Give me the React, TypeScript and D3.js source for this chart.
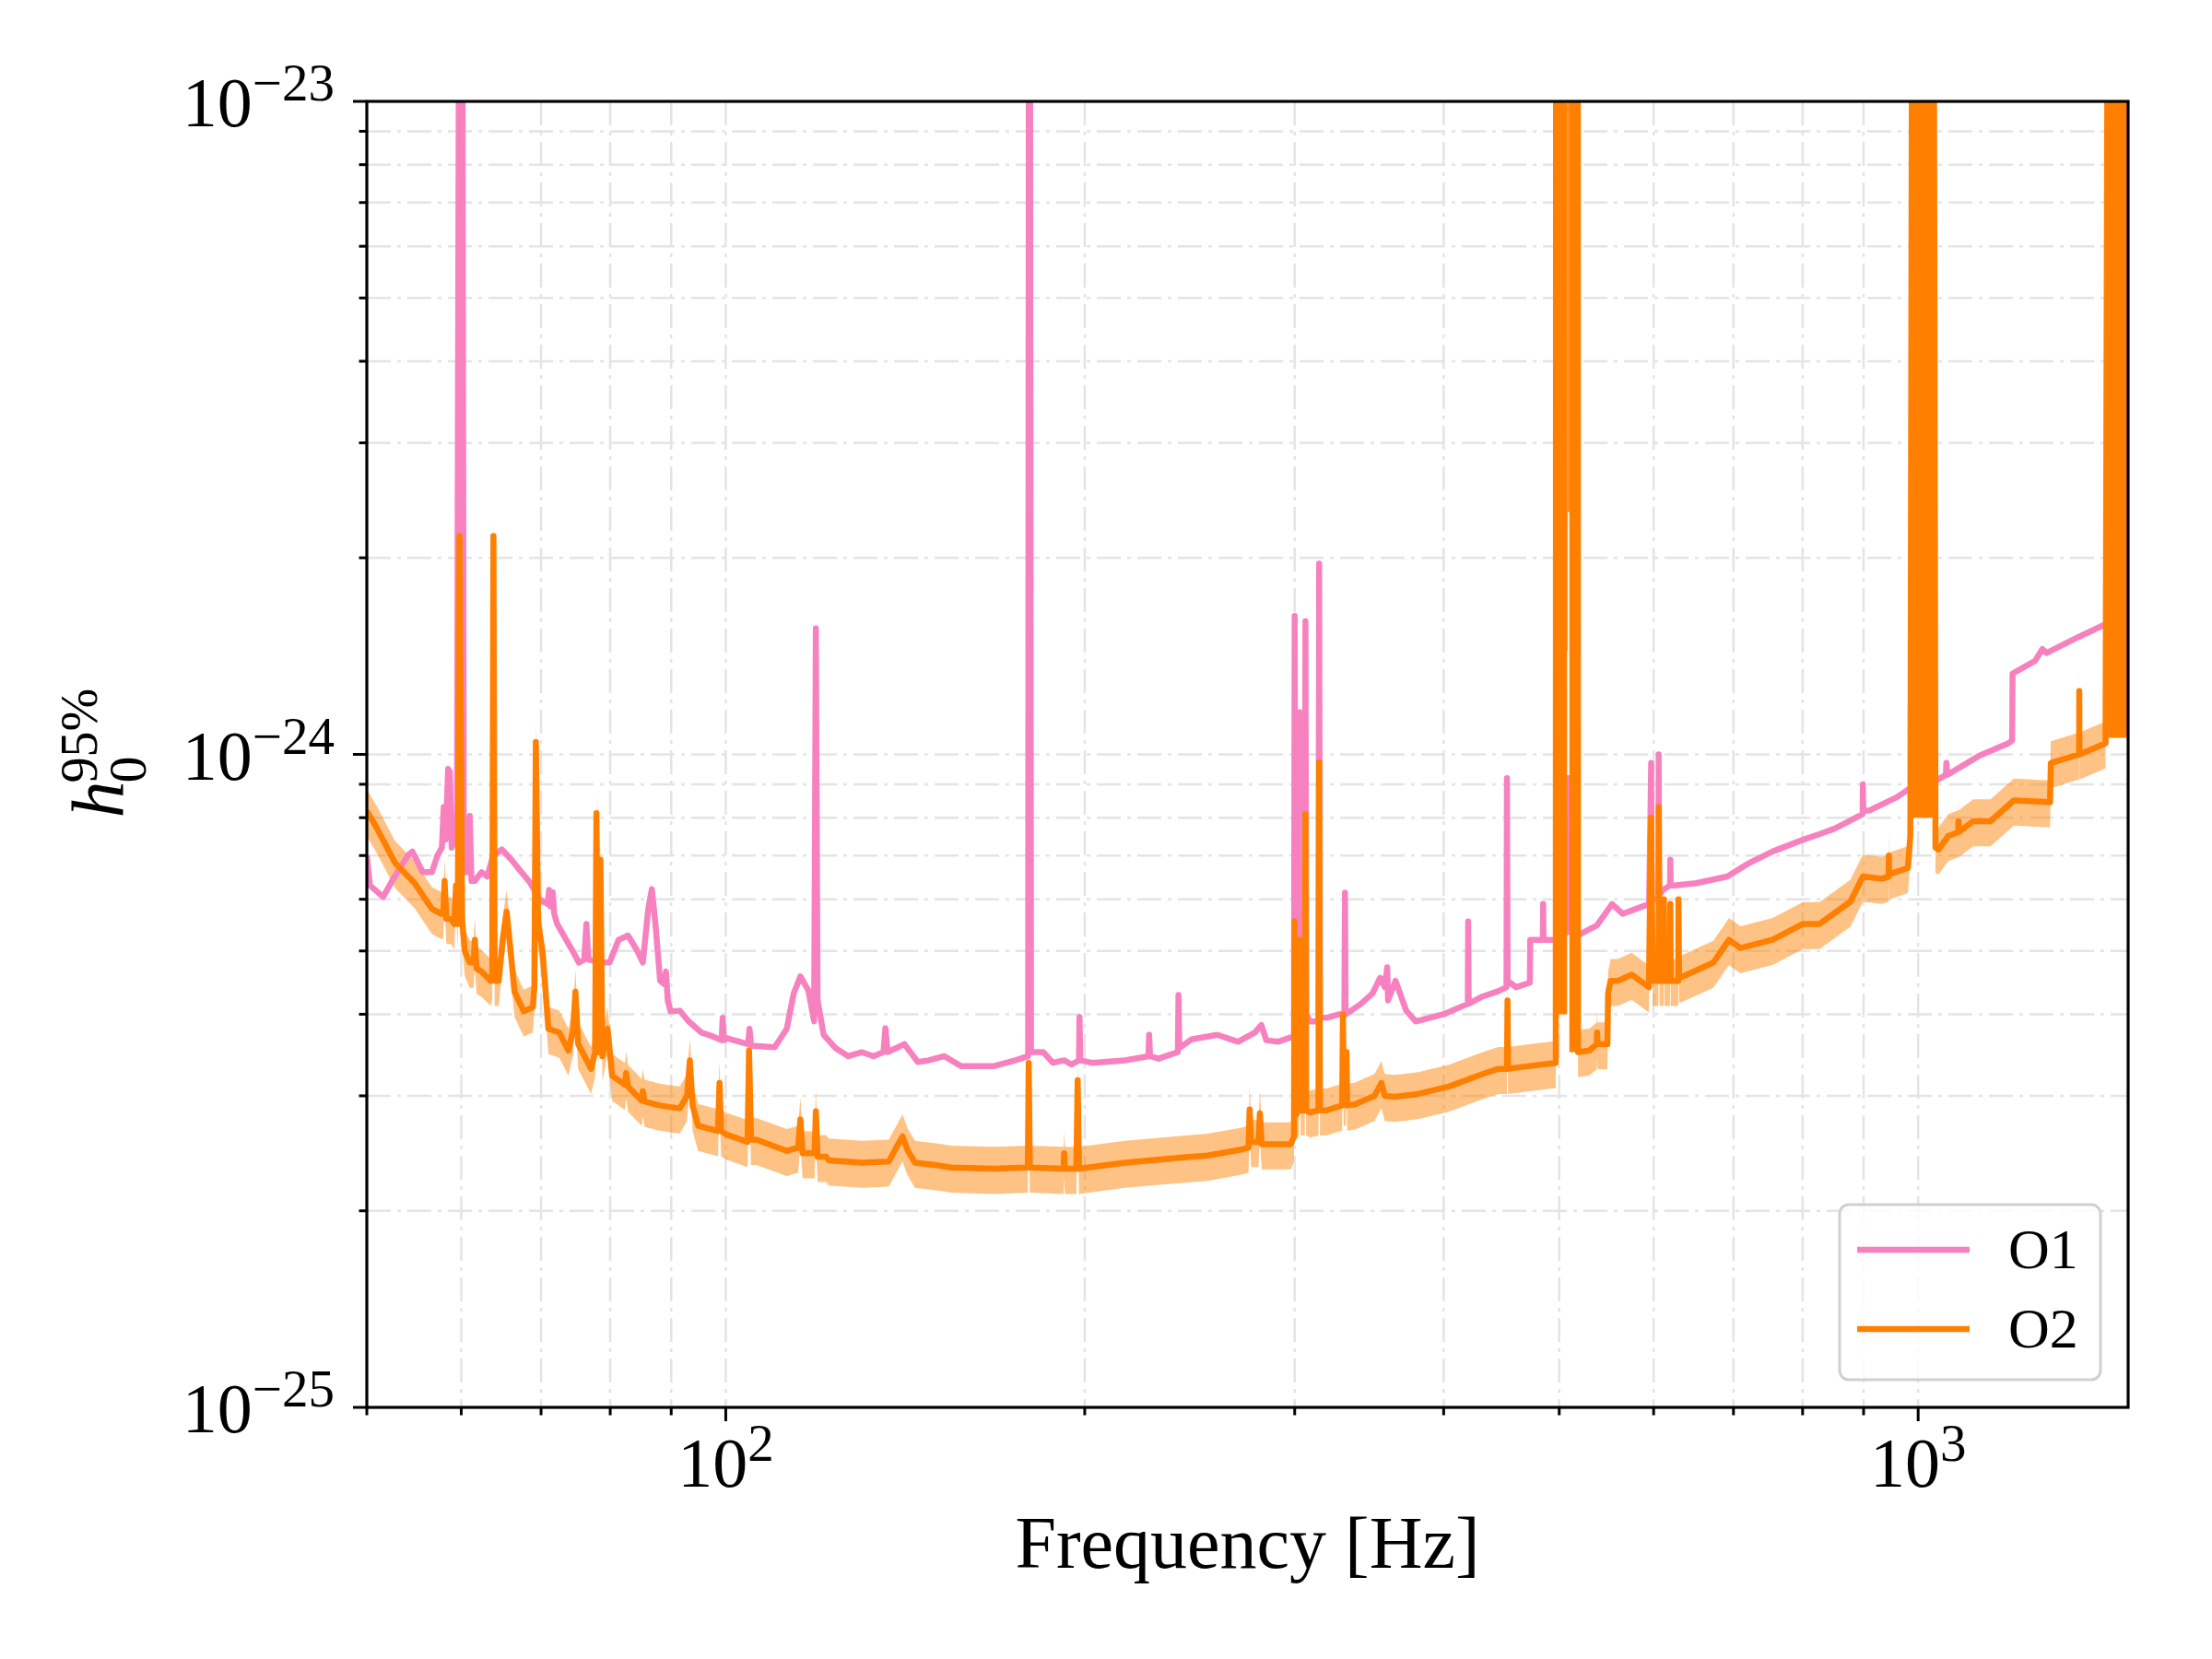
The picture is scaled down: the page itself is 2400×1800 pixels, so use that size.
import { useEffect, useRef } from "react"
import * as d3 from "d3"

// Upper limits, in units of 1e-25
const UNIT = 1e-25

// O1 upper limit: frequency [Hz] and h0 (x1e-25); spikes appear as consecutive points
const O1_FREQ = [
  50, 50.3, 51.6, 52.5, 54.1, 54.6, 55.7, 56.7, 57.3, 57.8, 58.0, 58.2, 58.5, 58.7, 58.9, 59.5, 59.8, 60.1, 60.3, 60.8,
  61.0, 61.2, 61.6, 62.4, 63.1, 63.8, 64.9, 66.1, 67.4, 68.5, 69.8, 70.9, 71.1, 71.3, 71.6, 71.8, 72.2, 74.4, 75.3, 76.1,
  76.4, 76.7, 78.5, 79.9, 81.3, 82.8, 84.3, 85.2, 86.1, 86.7, 87.3, 88.1, 88.8, 89.1, 89.4, 89.9, 91.5, 93.1, 95.4, 97.5,
  99.2, 99.4, 99.7, 100, 104.4, 104.7, 105, 109.9, 112.5, 114, 115.5, 117.3, 118.6, 119.0, 119.4, 120.8, 123.6, 126.7, 130, 133,
  135.6, 136.1, 136.7, 141.2, 144.9, 148, 152.5, 157.6, 167.7, 175, 179.3, 179.6, 179.9, 180.3, 184.6, 188.1, 192.2, 195, 197.8, 198.0,
  198.3, 202.8, 216.2, 226.2, 226.5, 226.9, 230.6, 239.4, 239.7, 240.1, 245.7, 258.4, 268.9, 277.7, 281.3, 284, 290.3, 299.6, 300.0, 300.5,
  302.5, 302.9, 303.4, 305.9, 306.3, 306.8, 309, 314.1, 314.5, 315, 319, 327, 330.2, 330.6, 331, 334.5, 341, 348.5, 353.9, 357,
  358.7, 359.3, 364.5, 372.1, 378.9, 400, 419.1, 419.4, 419.8, 430, 444.5, 451.6, 452, 452.6, 460, 472.4, 472.8, 482.9, 484.4, 484.7,
  485.1, 495.2, 508.6, 509.0, 509.4, 513.3, 520, 537.7, 553.8, 565, 577.2, 594.8, 597.2, 597.8, 605.6, 605.9, 606.4, 611.2, 619.3, 619.6,
  620.2, 624.3, 651.4, 691.6, 719.7, 754.9, 800.6, 826.7, 851.6, 898.3, 898.7, 899.4, 909.6, 959.9, 986.8, 1033, 1055, 1056, 1058, 1068,
  1124, 1190, 1199, 1200, 1253, 1271, 1282, 1360, 1444, 1500,
]
const O1_H = [
  7.0, 6.3, 6.05, 6.4, 7.0, 7.1, 6.6, 6.6, 7.0, 7.2, 8.3, 7.4, 9.5, 9.4, 7.2, 7.5, 300, 300, 6.6, 6.6,
  8.05, 6.4, 6.4, 6.6, 6.5, 7.0, 7.15, 6.9, 6.6, 6.37, 6.0, 5.9, 6.2, 5.85, 6.15, 5.7, 5.5, 5.0, 4.8, 4.85,
  5.5, 4.85, 4.8, 4.8, 5.2, 5.28, 5.0, 4.8, 5.8, 6.22, 5.5, 4.5, 4.45, 4.65, 4.2, 4.04, 4.05, 3.9, 3.75, 3.7,
  3.65, 3.95, 3.65, 3.68, 3.6, 3.8, 3.58, 3.56, 3.8, 4.3, 4.57, 4.35, 3.9, 15.6, 4.2, 3.72, 3.55, 3.45, 3.5, 3.45,
  3.5, 3.81, 3.5, 3.6, 3.38, 3.4, 3.45, 3.33, 3.33, 3.4, 3.45, 300, 300, 3.5, 3.5, 3.37, 3.4, 3.35, 3.4, 3.96,
  3.4, 3.37, 3.4, 3.45, 3.72, 3.45, 3.42, 3.5, 4.28, 3.55, 3.66, 3.72, 3.63, 3.75, 3.85, 3.65, 3.63, 3.7, 16.3, 4.0,
  4.0, 11.6, 4.0, 4.0, 16.0, 4.0, 3.9, 3.9, 19.6, 3.96, 3.95, 4.0, 4.0, 6.14, 4.0, 4.05, 4.15, 4.3, 4.55, 4.4,
  4.72, 4.2, 4.5, 4.05, 3.9, 4.0, 4.15, 5.55, 4.15, 4.25, 4.34, 4.4, 9.2, 4.5, 4.4, 4.47, 5.2, 5.2, 5.2, 5.9,
  5.2, 5.2, 5.35, 9.2, 5.35, 5.35, 5.3, 5.47, 5.9, 5.7, 5.78, 5.9, 9.7, 6.0, 6.0, 10.0, 6.1, 6.2, 6.3, 6.9,
  6.3, 6.3, 6.35, 6.5, 6.8, 7.1, 7.4, 7.55, 7.7, 8.1, 9.0, 8.2, 8.2, 8.6, 8.9, 9.1, 9.3, 9.7, 9.3, 9.4,
  9.94, 10.4, 10.5, 13.3, 13.9, 14.5, 14.3, 15.1, 15.9, 16.5,
]

// O2 upper limit: frequency [Hz] and h0 (x1e-25)
const O2_FREQ = [
  50, 51, 52.8, 54.8, 56.7, 57.7, 57.95, 58.1, 58.3, 58.8, 59.2, 59.4, 59.6, 59.8, 60.1, 60.4, 61.0, 61.45, 61.6, 61.8,
  62.4, 63.5, 63.7, 63.85, 64.0, 64.5, 65.0, 65.5, 66.0, 66.5, 67.7, 68.9, 69.1, 69.3, 69.6, 70.2, 71, 72.5, 73.8, 74.5,
  74.8, 75.2, 77.1, 77.7, 77.9, 78.2, 78.5, 78.8, 79.6, 80.3, 82.3, 82.5, 82.8, 85.0, 85.2, 85.5, 88, 91.5, 92.8, 93.3,
  93.8, 94.8, 98.5, 98.8, 99.1, 100, 104.3, 104.6, 105, 106.1, 112.5, 115, 115.5, 116, 118.7, 119, 119.4, 121.4, 122, 130.1,
  137, 139, 140.7, 142, 144.1, 150, 154.5, 167.7, 179.2, 179.5, 179.9, 192, 192.2, 192.5, 196.8, 197.3, 197.8, 216.2, 239.4, 253.7,
  270, 274.4, 275, 275.8, 279.7, 280.5, 281.5, 297.8, 299.6, 299.9, 300.5, 302.5, 302.9, 303.5, 305.9, 306.3, 306.7, 309, 314.1, 314.5,
  315, 319, 328.8, 329.3, 329.8, 331.2, 331.6, 332, 336.9, 350, 354.7, 357, 363.9, 380.8, 404.1, 429.3, 444.5, 452, 452.5, 453,
  470, 496.7, 497.0, 518.3, 518.5, 530, 537.6, 538, 538.4, 548.8, 549.5, 552.1, 560, 575, 594.6, 597, 599, 605.6, 606, 607,
  611.6, 612, 612.6, 619.2, 619.6, 620.2, 629.2, 629.5, 630.2, 634.8, 673.4, 694, 709.4, 754.9, 800.6, 826.7, 877.4, 898.7, 932.4, 944.5,
  945, 945.5, 980.4, 985, 989, 1030, 1034, 1040, 1060, 1080.5, 1081, 1081.5, 1112, 1150, 1203, 1290, 1292, 1364.5, 1365, 1365.5,
  1436, 1443, 1500,
]
const O2_H = [
  8.19, 7.7, 6.82, 6.36, 5.8, 5.7, 5.7, 6.4, 5.6, 5.6, 5.5, 6.3, 5.5, 21.6, 5.6, 5.0, 4.8, 4.8, 5.2, 4.7,
  4.65, 4.5, 4.6, 21.6, 4.5, 4.5, 5.2, 5.74, 5.0, 4.33, 4.04, 4.1, 4.4, 10.45, 5.5, 5.0, 3.8, 3.75, 3.52, 3.8,
  4.33, 3.6, 3.3, 3.5, 8.13, 3.5, 6.9, 3.45, 3.8, 3.22, 3.12, 3.25, 3.1, 2.95, 3.05, 2.94, 2.9, 2.87, 3.0, 3.4,
  2.9, 2.7, 2.65, 3.14, 2.65, 2.62, 2.55, 3.52, 2.57, 2.57, 2.47, 2.5, 2.76, 2.45, 2.45, 2.84, 2.42, 2.42, 2.39, 2.37,
  2.38, 2.5, 2.6, 2.48, 2.37, 2.35, 2.33, 2.32, 2.33, 3.37, 2.33, 2.32, 2.45, 2.32, 2.32, 3.17, 2.32, 2.37, 2.41, 2.43,
  2.48, 2.5, 2.86, 2.55, 2.55, 2.82, 2.53, 2.53, 2.6, 5.55, 2.8, 2.85, 5.2, 2.85, 2.85, 8.1, 2.85, 2.83, 2.85, 9.72,
  2.85, 2.85, 2.9, 4.0, 2.95, 2.95, 3.5, 2.9, 2.91, 3.0, 3.14, 3.0, 2.99, 3.02, 3.1, 3.23, 3.3, 3.3, 4.2, 3.3,
  3.33, 3.37, 300, 300, 3.5, 3.52, 3.6, 3.75, 3.6, 3.6, 4.3, 4.5, 4.5, 4.6, 4.4, 8.0, 4.5, 4.5, 8.3, 4.5,
  4.5, 6.0, 4.5, 4.5, 5.9, 4.5, 4.5, 6.0, 4.55, 4.57, 4.8, 5.2, 5.05, 5.2, 5.5, 5.5, 5.95, 6.5, 6.45, 6.5,
  7.0, 6.55, 6.7, 7.5, 300, 300, 7.2, 7.15, 7.5, 7.6, 7.9, 7.6, 7.9, 7.9, 8.5, 8.45, 9.7, 10.0, 12.5, 10.0,
  10.4, 300, 300,
]

// Frequency bands where the O2 limit oscillates off-scale (dense forests of lines)
const DENSE_LO = [496.8, 507.7, 508.4, 509.9, 989, 1443]
const DENSE_HI = [507.7, 508.4, 509.9, 518.5, 1030, 1500]
const DENSE_FLOOR = [4.0, 14.4, 23.5, 3.5, 8.0, 10.6]

// O2 uncertainty band, relative to the O2 limit
const BAND_LO = 0.915
const BAND_HI = 1.08

const SERIES = ["O1", "O2"]
const SERIES_COLORS = ["#f781bf", "#ff7f00"]

const X_DOMAIN = [50, 1500]
const Y_DOMAIN = [1e-25, 1e-23]

// Ticks
const X_MAJOR = [100, 1000]
const X_MAJOR_EXP = ["2", "3"]
const X_MINOR = [50, 60, 70, 80, 90, 200, 300, 400, 500, 600, 700, 800, 900]
const Y_MAJOR = [1e-25, 1e-24, 1e-23]
const Y_MAJOR_EXP = ["\u221225", "\u221224", "\u221223"]
const Y_MINOR = [2e-25, 3e-25, 4e-25, 5e-25, 6e-25, 7e-25, 8e-25, 9e-25, 2e-24, 3e-24, 4e-24, 5e-24, 6e-24, 7e-24, 8e-24, 9e-24]

export default function App() {
  const svgRef = useRef<SVGSVGElement>(null)

  useEffect(() => {
    if (!svgRef.current) return
    const svg = d3.select(svgRef.current)
    svg.selectAll("*").remove()

    const width = 2400
    const height = 1800
    const left = 398
    const right = 2309
    const top = 110
    const bottom = 1527
    const font = "'Liberation Serif', 'DejaVu Serif', serif"

    svg.attr("width", width).attr("height", height)
    svg.append("rect").attr("width", width).attr("height", height).attr("fill", "white")

    const x = d3.scaleLog().domain(X_DOMAIN).range([left, right])
    const y = d3.scaleLog().domain(Y_DOMAIN).range([bottom, top])

    svg
      .append("defs")
      .append("clipPath")
      .attr("id", "plot-clip")
      .append("rect")
      .attr("x", left)
      .attr("y", top)
      .attr("width", right - left)
      .attr("height", bottom - top)

    // Grid (major and minor), dash-dot
    const grid = svg.append("g").attr("stroke", "#e4e4e4").attr("stroke-width", 2.5).attr("stroke-dasharray", "26 7 4 7")
    grid
      .selectAll(".gx")
      .data([...X_MINOR.slice(1), ...X_MAJOR])
      .enter()
      .append("line")
      .attr("x1", (d) => x(d))
      .attr("x2", (d) => x(d))
      .attr("y1", top)
      .attr("y2", bottom)
    grid
      .selectAll(".gy")
      .data([...Y_MINOR, Y_MAJOR[1]])
      .enter()
      .append("line")
      .attr("x1", left)
      .attr("x2", right)
      .attr("y1", (d) => y(d))
      .attr("y2", (d) => y(d))

    const plot = svg.append("g").attr("clip-path", "url(#plot-clip)")

    // O2 uncertainty band
    const band = d3
      .area<number>()
      .x((_, i) => x(O2_FREQ[i]))
      .y0((d) => y(d * UNIT * BAND_LO))
      .y1((d) => y(d * UNIT * BAND_HI))
    plot.append("path").attr("d", band(O2_H)).attr("fill", SERIES_COLORS[1]).attr("fill-opacity", 0.48)

    const lineFor = (freqs: number[]) =>
      d3
        .line<number>()
        .x((_, i) => x(freqs[i]))
        .y((d) => y(d * UNIT))

    plot
      .append("path")
      .attr("d", lineFor(O1_FREQ)(O1_H))
      .attr("fill", "none")
      .attr("stroke", SERIES_COLORS[0])
      .attr("stroke-width", 6.5)
      .attr("stroke-linejoin", "round")

    plot
      .append("path")
      .attr("d", lineFor(O2_FREQ)(O2_H))
      .attr("fill", "none")
      .attr("stroke", SERIES_COLORS[1])
      .attr("stroke-width", 6.5)
      .attr("stroke-linejoin", "round")

    // Dense line forests of O2
    plot
      .selectAll(".dense")
      .data(DENSE_LO)
      .enter()
      .append("rect")
      .attr("x", (d) => x(d))
      .attr("width", (d, i) => x(DENSE_HI[i]) - x(d))
      .attr("y", top)
      .attr("height", (d, i) => y(DENSE_FLOOR[i] * UNIT) - top)
      .attr("fill", SERIES_COLORS[1])

    // Spines
    svg
      .append("rect")
      .attr("x", left)
      .attr("y", top)
      .attr("width", right - left)
      .attr("height", bottom - top)
      .attr("fill", "none")
      .attr("stroke", "black")
      .attr("stroke-width", 3.2)

    // Ticks
    const ticks = svg.append("g").attr("stroke", "black").attr("stroke-width", 3)
    const xTickLines = [...X_MAJOR.map((v) => ({ v, len: 15 })), ...X_MINOR.map((v) => ({ v, len: 8.5 }))]
    const yTickLines = [...Y_MAJOR.map((v) => ({ v, len: 15 })), ...Y_MINOR.map((v) => ({ v, len: 8.5 }))]
    ticks
      .selectAll(".tx")
      .data(xTickLines)
      .enter()
      .append("line")
      .attr("x1", (d) => x(d.v))
      .attr("x2", (d) => x(d.v))
      .attr("y1", bottom)
      .attr("y2", (d) => bottom + d.len)
    ticks
      .selectAll(".ty")
      .data(yTickLines)
      .enter()
      .append("line")
      .attr("y1", (d) => y(d.v))
      .attr("y2", (d) => y(d.v))
      .attr("x1", left)
      .attr("x2", (d) => left - d.len)

    // Tick labels
    const xLabels = svg
      .selectAll(".xl")
      .data(X_MAJOR)
      .enter()
      .append("text")
      .attr("x", (d) => x(d))
      .attr("y", 1613)
      .attr("text-anchor", "middle")
      .style("font-family", font)
      .style("font-size", "76px")
    xLabels.append("tspan").text("10")
    xLabels
      .append("tspan")
      .attr("dy", -28)
      .style("font-size", "57px")
      .text((d, i) => X_MAJOR_EXP[i])

    const yLabels = svg
      .selectAll(".yl")
      .data(Y_MAJOR)
      .enter()
      .append("text")
      .attr("x", 363)
      .attr("y", (d) => y(d) + 27)
      .attr("text-anchor", "end")
      .style("font-family", font)
      .style("font-size", "76px")
    yLabels.append("tspan").text("10")
    yLabels
      .append("tspan")
      .attr("dy", -28)
      .style("font-size", "57px")
      .text((d, i) => Y_MAJOR_EXP[i])

    // Axis titles
    svg
      .append("text")
      .attr("x", (left + right) / 2)
      .attr("y", 1701)
      .attr("text-anchor", "middle")
      .style("font-family", font)
      .style("font-size", "80px")
      .text("Frequency [Hz]")

    const yTitle = svg
      .append("g")
      .attr("transform", `translate(133, ${(top + bottom) / 2}) rotate(-90)`)
      .style("font-family", font)
    yTitle.append("text").attr("x", -69).attr("y", 0).style("font-size", "80px").style("font-style", "italic").text("h")
    yTitle.append("text").attr("x", -31).attr("y", 25).style("font-size", "58px").text("0")
    yTitle.append("text").attr("x", -31).attr("y", -28).style("font-size", "56px").text("95%")

    // Legend
    const legend = svg.append("g")
    legend
      .append("rect")
      .attr("x", 1996)
      .attr("y", 1307)
      .attr("width", 283)
      .attr("height", 190)
      .attr("rx", 10)
      .attr("fill", "white")
      .attr("fill-opacity", 0.8)
      .attr("stroke", "#d0d0d0")
      .attr("stroke-width", 3)
    const items = legend
      .selectAll(".item")
      .data(SERIES)
      .enter()
      .append("g")
      .attr("transform", (d, i) => `translate(0, ${1356 + i * 86})`)
    items
      .append("line")
      .attr("x1", 2015)
      .attr("x2", 2137)
      .attr("stroke", (d, i) => SERIES_COLORS[i])
      .attr("stroke-width", 6.5)
    items
      .append("text")
      .attr("x", 2179)
      .attr("y", 20)
      .style("font-family", font)
      .style("font-size", "62px")
      .text((d) => d)
  }, [])

  return <svg ref={svgRef} style={{ position: "absolute", left: 0, top: 0 }} />
}
